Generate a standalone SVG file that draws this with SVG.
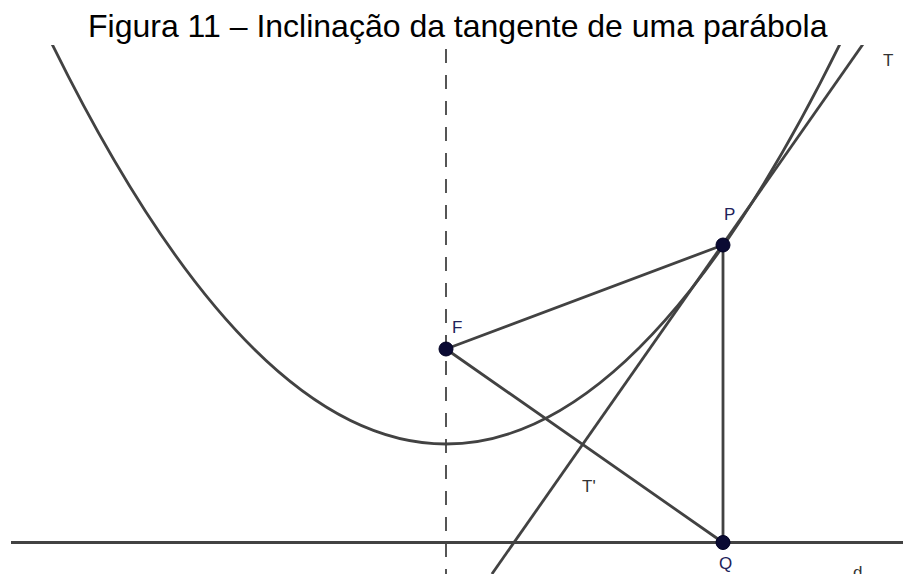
<svg xmlns="http://www.w3.org/2000/svg" width="903" height="574" viewBox="0 0 903 574">
  <defs>
    <clipPath id="plot">
      <rect x="10" y="45" width="893" height="529"/>
    </clipPath>
    <style>
      .curve { fill: none; stroke: #424242; stroke-width: 2.8; }
      .seg { fill: none; stroke: #424242; stroke-width: 2.8; stroke-linecap: round; }
      .dash { fill: none; stroke: #555555; stroke-width: 2; stroke-dasharray: 14 12; }
      .pt { fill: #0a0a33; stroke: #000022; stroke-width: 1; }
      .ptlabel { font-family: "Liberation Sans", Arial, sans-serif; font-size: 17px; fill: #22225a; }
      .lnlabel { font-family: "Liberation Sans", Arial, sans-serif; font-size: 17px; fill: #333333; }
      .title { font-family: "Liberation Sans", Arial, sans-serif; font-size: 32px; fill: #000000; }
    </style>
  </defs>
  <rect width="903" height="574" fill="#ffffff"/>
  <text class="title" x="88" y="37">Figura 11 – Inclinação da tangente de uma parábola</text>

  <g id="connectors" clip-path="url(#plot)">
    <line id="axis" class="dash" x1="446" y1="49" x2="446" y2="574"/>
    <line id="directrix-d" class="curve" x1="11" y1="542.5" x2="903" y2="542.5"/>
    <path id="parabola" class="curve" d="M40,19.2 Q446,868.8 852,19.2"/>
    <line id="tangent-T" class="curve" x1="491.9" y1="574" x2="872.9" y2="30"/>
    <line id="seg-FP" class="seg" x1="446" y1="349" x2="723" y2="245"/>
    <line id="seg-FQ" class="seg" x1="446" y1="349" x2="723" y2="542.5"/>
    <line id="seg-PQ" class="seg" x1="723" y1="245" x2="723" y2="542.5"/>
  </g>

  <g id="node-F">
    <circle class="pt" cx="446" cy="349" r="7"/>
    <text class="ptlabel" x="452" y="333">F</text>
  </g>
  <g id="node-P">
    <circle class="pt" cx="723" cy="245" r="7"/>
    <text class="ptlabel" x="724" y="220">P</text>
  </g>
  <g id="node-Q">
    <circle class="pt" cx="723" cy="542.5" r="7"/>
    <text class="ptlabel" x="719" y="569">Q</text>
  </g>
  <g id="label-T">
    <text class="lnlabel" x="883" y="66">T</text>
  </g>
  <g id="label-Tprime">
    <text class="lnlabel" x="582" y="492">T'</text>
  </g>
  <g id="label-d">
    <text class="lnlabel" x="853" y="578">d</text>
  </g>
</svg>
